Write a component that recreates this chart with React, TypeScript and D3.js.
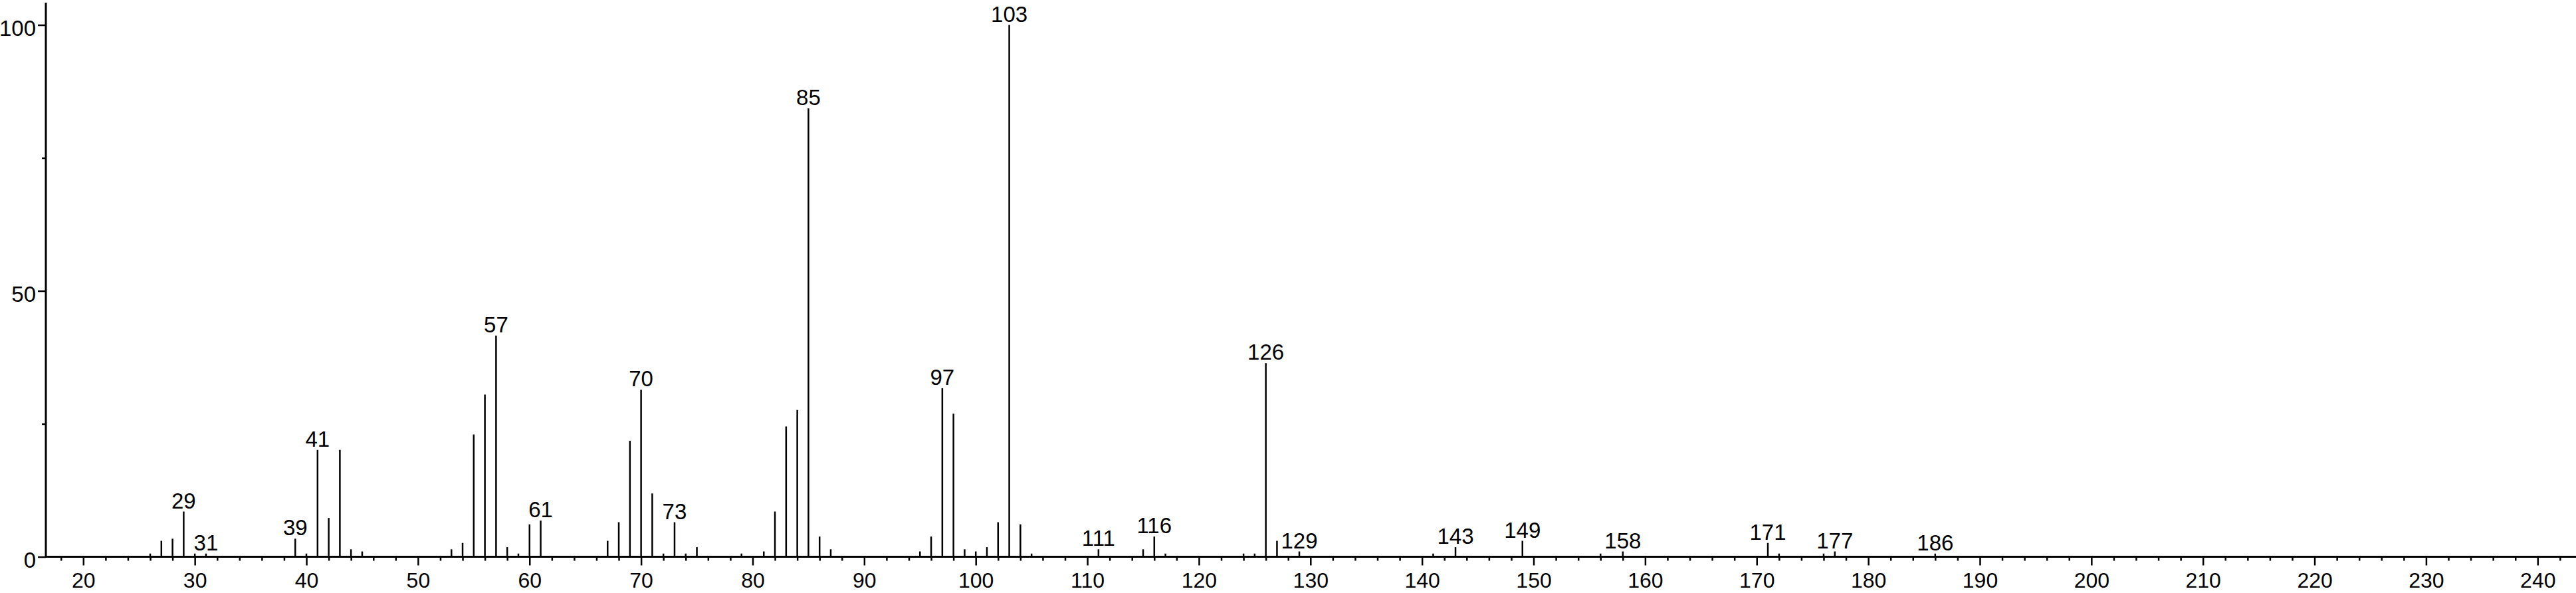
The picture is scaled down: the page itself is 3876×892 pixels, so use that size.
import React, {useRef, useEffect} from 'react';
import * as d3 from 'd3';

// m/z of each peak and its relative intensity (%)
const masses = [26,27,28,29,30,31,39,40,41,42,43,44,45,53,54,55,56,57,58,59,60,61,
    67,68,69,70,71,72,73,74,75,79,81,82,83,84,85,86,87,95,96,97,98,99,100,101,102,103,104,105,
    111,115,116,117,124,125,126,127,129,141,143,149,156,158,171,172,176,177,186];
const intensities = [0.6,3.0,3.4,8.5,0.6,0.6,3.4,0.6,20.1,7.3,20.1,1.4,1.0,1.4,2.6,23.0,30.5,41.6,1.8,0.6,6.1,6.8,
    3.0,6.5,21.8,31.4,11.9,0.6,6.5,0.6,1.8,0.6,1.0,8.5,24.5,27.6,84.3,3.8,1.4,1.0,3.8,31.7,26.9,1.4,1.0,1.8,6.5,100,6.1,0.6,
    1.4,1.4,3.8,0.6,0.6,0.6,36.4,3.0,1.0,0.6,1.8,3.0,0.6,1.0,2.6,0.6,0.6,1.0,0.6];
// peaks that get their m/z written above
const labelledPeaks = [29,31,39,41,57,61,70,73,85,97,103,111,116,126,129,143,149,158,171,177,186];

const xMajorTicks = [20,30,40,50,60,70,80,90,100,110,120,130,140,150,160,170,180,190,200,210,220,230,240];
const yMajorTicks = [0,50,100];
const yMinorTicks = [25,75];

const W = 3876, H = 892;
const FONT = '"Liberation Sans", Arial, Helvetica, sans-serif';

export default function App(){
    const svgRef = useRef(null);

    useEffect(() => {
        const svg = d3.select(svgRef.current);
        svg.selectAll('*').remove();

        const xScale = d3.scaleLinear().domain([20, 240]).range([125.3, 3818.3]);
        const yScale = d3.scaleLinear().domain([0, 100]).range([837.5, 37.5]);
        const axisX = 69;
        const baseY = yScale(0);

        const g = svg.append('g');

        /** minor x ticks every 2 units */
        const minorX = d3.range(18, 244, 2).filter(d => d % 10 !== 0);
        const xMinor = g.append('g').attr('transform', `translate(0, ${baseY})`)
            .call(d3.axisBottom(xScale).tickValues(minorX).tickSize(6).tickFormat(() => ''));
        xMinor.select('.domain').remove();
        xMinor.selectAll('line').attr('stroke', '#000').attr('stroke-width', 2.5);

        const xMajor = g.append('g').attr('transform', `translate(0, ${baseY})`)
            .call(d3.axisBottom(xScale).tickValues(xMajorTicks).tickSize(13).tickPadding(11).tickFormat(d3.format('d')));
        xMajor.select('.domain').remove();
        xMajor.selectAll('line').attr('stroke', '#000').attr('stroke-width', 2.5);
        xMajor.selectAll('text').attr('fill', '#000').style('font-family', FONT).style('font-size', '32px');

        /** y axis */
        const yMinor = g.append('g').attr('transform', `translate(${axisX}, 0)`)
            .call(d3.axisLeft(yScale).tickValues(yMinorTicks).tickSize(6).tickFormat(() => ''));
        yMinor.select('.domain').remove();
        yMinor.selectAll('line').attr('stroke', '#000').attr('stroke-width', 2.5);

        const yMajor = g.append('g').attr('transform', `translate(${axisX}, 0)`)
            .call(d3.axisLeft(yScale).tickValues(yMajorTicks).tickSize(12).tickPadding(3).tickFormat(d3.format('d')));
        yMajor.select('.domain').remove();
        yMajor.selectAll('line').attr('stroke', '#000').attr('stroke-width', 2.5);
        yMajor.selectAll('text').attr('fill', '#000').attr('dy', '0.48em')
            .style('font-family', FONT).style('font-size', '33px');

        /** peaks */
        const peaks = masses.map((m, i) => ({m, v: intensities[i]}));
        g.append('g').selectAll('line')
            .data(peaks)
            .join('line')
            .attr('x1', d => xScale(d.m))
            .attr('x2', d => xScale(d.m))
            .attr('y1', baseY)
            .attr('y2', d => yScale(d.v))
            .attr('stroke', '#000')
            .attr('stroke-width', 2.5);

        g.append('g').selectAll('text')
            .data(peaks.filter(d => labelledPeaks.includes(d.m)))
            .join('text')
            .attr('x', d => xScale(d.m))
            .attr('y', d => yScale(d.v) - 5)
            .attr('text-anchor', 'middle')
            .attr('fill', '#000')
            .style('font-family', FONT)
            .style('font-size', '33px')
            .text(d => d.m);

        /** axis lines on top */
        g.append('line')
            .attr('x1', axisX).attr('x2', W)
            .attr('y1', baseY).attr('y2', baseY)
            .attr('stroke', '#000').attr('stroke-width', 3.2);
        g.append('line')
            .attr('x1', axisX).attr('x2', axisX)
            .attr('y1', 4).attr('y2', baseY + 1.5)
            .attr('stroke', '#000').attr('stroke-width', 3);
    });

    return(
        <div style={{position: 'absolute', left: 0, top: 0, width: W, height: H, background: '#fff'}}>
            <svg ref={svgRef} width={W} height={H} style={{display: 'block'}}/>
        </div>
    );
}
